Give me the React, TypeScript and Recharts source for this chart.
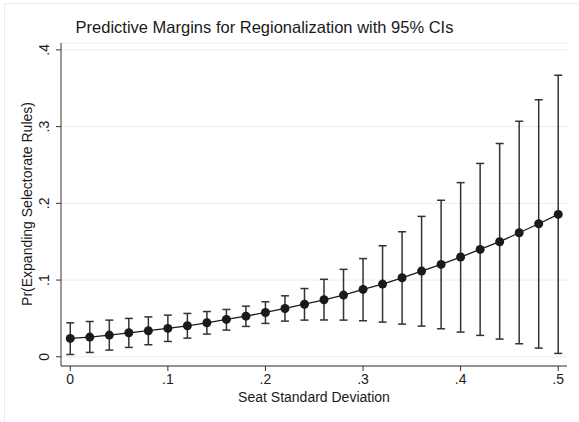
import React from "react";
import {
  ComposedChart,
  Line,
  XAxis,
  YAxis,
  CartesianGrid,
  ErrorBar,
  Label,
} from "recharts";

// seat standard deviation (x)
const seatSD = [
  0, 0.02, 0.04, 0.06, 0.08, 0.1, 0.12, 0.14, 0.16, 0.18, 0.2, 0.22, 0.24,
  0.26, 0.28, 0.3, 0.32, 0.34, 0.36, 0.38, 0.4, 0.42, 0.44, 0.46, 0.48, 0.5,
];

// predicted probability
const margin = [
  0.024, 0.0257, 0.0283, 0.0313, 0.034, 0.037, 0.0404, 0.0443, 0.0487, 0.053,
  0.0578, 0.063, 0.0685, 0.0743, 0.0804, 0.0878, 0.0948, 0.103, 0.1117, 0.1204,
  0.13, 0.14, 0.15, 0.1617, 0.1734, 0.1856,
];

// 95% CI bounds
const ciUpper = [
  0.0443, 0.046, 0.0478, 0.05, 0.052, 0.0543, 0.0565, 0.059, 0.0617, 0.066,
  0.0717, 0.0795, 0.089, 0.101, 0.114, 0.128, 0.1447, 0.163, 0.183, 0.204,
  0.227, 0.252, 0.278, 0.307, 0.335, 0.367,
];
const ciLower = [
  0.003, 0.0057, 0.0087, 0.0122, 0.0157, 0.02, 0.0243, 0.0296, 0.0348, 0.0396,
  0.0435, 0.0465, 0.0478, 0.048, 0.0478, 0.047, 0.0452, 0.0426, 0.04, 0.0365,
  0.0322, 0.0279, 0.0231, 0.017, 0.0113, 0.0044,
];

const xTicks = [0, 0.1, 0.2, 0.3, 0.4, 0.5];
const yTicks = [0, 0.1, 0.2, 0.3, 0.4];

const data = seatSD.map((x, i) => ({
  x,
  y: margin[i],
  err: [margin[i] - ciLower[i], ciUpper[i] - margin[i]],
}));

const FONT = "'Liberation Sans', Arial, sans-serif";
const INK = "#1a1a1a";

// Stata-style ".1" labels
const fmt = (v: number) => (v === 0 ? "0" : String(v).replace(/^0/, ""));

const YTick = (props: any) => {
  const { x, y, payload } = props;
  const bx = x - 5;
  return (
    <text
      x={bx}
      y={y}
      transform={`rotate(-90, ${bx}, ${y})`}
      textAnchor="middle"
      fontSize={14}
      fontFamily={FONT}
      fill={INK}
    >
      {fmt(payload.value)}
    </text>
  );
};

const YTitle = () => (
  <text
    x={32}
    y={204}
    transform="rotate(-90, 32, 204)"
    textAnchor="middle"
    fontSize={14}
    fontFamily={FONT}
    fill={INK}
  >
    Pr(Expanding Selectorate Rules)
  </text>
);

export default function App() {
  return (
    <div
      style={{
        position: "absolute",
        left: 0,
        top: 0,
        width: 579,
        height: 422,
        background: "#fff",
        overflow: "hidden",
      }}
    >
      <div
        style={{
          position: "absolute",
          left: 4,
          top: 3,
          width: 620,
          height: 460,
          border: "1px solid #ececec",
        }}
      />
      <div
        style={{
          position: "absolute",
          left: 0,
          top: 18,
          width: 529,
          textAlign: "center",
          fontFamily: FONT,
          fontSize: 16.5,
          color: INK,
        }}
      >
        Predictive Margins for Regionalization with 95% CIs
      </div>
      <div style={{ position: "absolute", left: 0, top: 0 }}>
        <ComposedChart
          width={579}
          height={422}
          data={data}
          margin={{ top: 43, right: 12, bottom: 0, left: 0 }}
        >
          <CartesianGrid vertical={false} stroke="#ebebeb" strokeWidth={1} />
          <XAxis
            dataKey="x"
            type="number"
            domain={[-0.0095, 0.509]}
            ticks={xTicks}
            tickFormatter={fmt}
            height={56}
            tickSize={5}
            tickMargin={3}
            stroke="#333"
            tick={{ fontSize: 14, fontFamily: FONT, fill: INK }}
            allowDataOverflow
          >
            <Label
              value="Seat Standard Deviation"
              position="insideBottom"
              offset={20}
              fontSize={14}
              fontFamily={FONT}
              fill={INK}
            />
          </XAxis>
          <YAxis
            type="number"
            domain={[-0.012, 0.409]}
            ticks={yTicks}
            width={61}
            tickSize={5}
            tickMargin={2}
            stroke="#333"
            tick={<YTick />}
            allowDataOverflow
          >
            <Label content={<YTitle />} />
          </YAxis>
          <Line
            dataKey="y"
            type="linear"
            stroke={INK}
            strokeWidth={1.3}
            dot={{ r: 4.5, fill: INK, stroke: INK, strokeWidth: 0 }}
            activeDot={false}
            isAnimationActive={false}
          >
            <ErrorBar
              dataKey="err"
              direction="y"
              width={4}
              stroke="#333"
              strokeWidth={1.5}
              isAnimationActive={false}
            />
          </Line>
        </ComposedChart>
      </div>
    </div>
  );
}
